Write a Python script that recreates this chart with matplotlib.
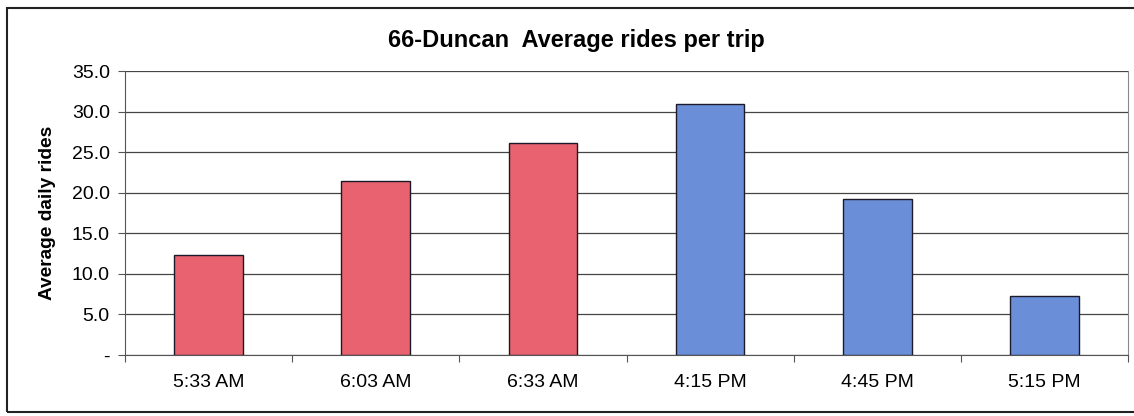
import matplotlib.pyplot as plt
from matplotlib.patches import Rectangle

plt.rcParams['font.family'] = ['Liberation Sans', 'DejaVu Sans']

trips = ['5:33 AM', '6:03 AM', '6:33 AM', '4:15 PM', '4:45 PM', '5:15 PM']
rides = [12.3, 21.4, 26.1, 30.9, 19.2, 7.3]
bar_colors = ['#E8636F', '#E8636F', '#E8636F', '#6B8ED8', '#6B8ED8', '#6B8ED8']
y_ticks = [0, 5, 10, 15, 20, 25, 30, 35]
y_tick_labels = ['-', '5.0', '10.0', '15.0', '20.0', '25.0', '30.0', '35.0']

fig = plt.figure(figsize=(11.34, 4.16), dpi=100)
ax = fig.add_axes([125/1134, 61/416, 1003/1134, 284/416])

x = range(len(trips))
ax.bar(x, rides, width=0.41, color=bar_colors, edgecolor='#1a1a2a', linewidth=1.0, zorder=3)

ax.set_xlim(-0.5, len(trips) - 0.5)
ax.set_ylim(0, 35)
ax.set_yticks(y_ticks)
ax.set_yticklabels(y_tick_labels, fontsize=14)
ax.set_xticks([i - 0.5 for i in range(len(trips) + 1)])
ax.set_xticklabels([])
ax.set_xticks(list(x), minor=True)
ax.set_xticklabels(trips, minor=True, fontsize=14)
ax.tick_params(axis='x', which='minor', length=0, pad=14)
ax.tick_params(axis='x', which='major', length=5, color='#555555', direction='out')
ax.tick_params(axis='y', length=5, color='#555555', direction='out', pad=6)

ax.grid(axis='y', color='#444444', linewidth=0.9, zorder=0)
ax.spines['top'].set_visible(False)
ax.spines['right'].set_color('#888888')
ax.spines['left'].set_color('#555555')
ax.spines['bottom'].set_color('#555555')

ax.set_ylabel('Average daily rides', fontsize=13.8, fontweight='bold', labelpad=11)
fig.text(576/1134, 1 - 40/416, '66-Duncan  Average rides per trip', ha='center', va='center',
         fontsize=17, fontweight='bold')

fig.patches.append(Rectangle((7/1134, 4/416), 1.2, 404/416, transform=fig.transFigure,
                             fill=False, edgecolor='#222222', linewidth=1.5))

fig.savefig('out.png', dpi=100)
